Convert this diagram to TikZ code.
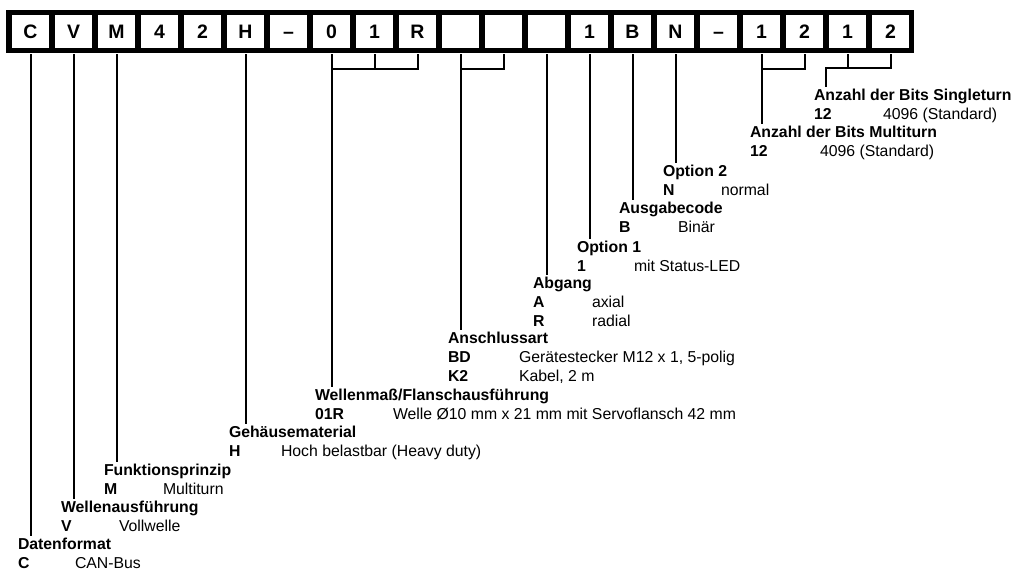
\documentclass[tikz,border=0pt]{standalone}
\usepackage{fontspec}
\setmainfont{Liberation Sans}
\usepackage{array}

\tikzset{every picture/.style={line width=1.5pt}}
\tikzset{
  digit/.style={fill=white, inner sep=0pt, minimum width=27.75pt, minimum height=24.75pt,
    text height=10.45pt, text depth=0pt, font=\fontsize{14.6}{16}\selectfont\bfseries},
  entry/.style={anchor=north west, inner sep=0pt, font=\fontsize{11.85}{13.9}\selectfont},
}
% title line, then code / meaning rows
\newcommand{\codelist}[3]{\begin{tabular}{@{}>{\bfseries}p{#1}@{}l@{}}\multicolumn{2}{@{}l@{}}{\bfseries #2}\\ #3\end{tabular}}

\begin{document}
\begin{tikzpicture}[x=0.75pt,y=0.75pt,yscale=-1,xscale=1]
\useasboundingbox (0,0) rectangle (1014,569);

% Type code bar
\node[fill=black, inner sep=0pt, minimum width=681pt, minimum height=32.25pt] (bar) at (460,31.5) {};
\foreach \ch [count=\i] in {C,V,M,4,2,H,\textendash,0,1,R,{},{},{},1,B,N,\textendash,1,2,1,2}
  \node[digit] (b\i) at ({30.5+43*(\i-1)},31.5) {\ch};

% Text Node
\node[entry] (fmt) at (17,536) {\codelist{42.75pt}{Datenformat}{C & CAN-Bus}};
% Text Node
\node[entry] (shaft) at (60,499) {\codelist{43.5pt}{Wellenausführung}{V & Vollwelle}};
% Text Node
\node[entry] (func) at (103,462) {\codelist{44.25pt}{Funktionsprinzip}{M & Multiturn}};
% Text Node
\node[entry] (house) at (228,424) {\codelist{39pt}{Gehäusematerial}{H & Hoch belastbar (Heavy duty)}};
% Text Node
\node[entry] (flange) at (314,387) {\codelist{58.5pt}{Wellenmaß/Flanschausführung}{01R & Welle Ø10 mm x 21 mm mit Servoflansch 42 mm}};
% Text Node
\node[entry] (conn) at (447,330) {\codelist{53.25pt}{Anschlussart}{BD & Gerätestecker M12 x 1, 5-polig\\ K2 & Kabel, 2 m}};
% Text Node
\node[entry] (outlet) at (532,275) {\codelist{44.25pt}{Abgang}{A & axial\\ R & radial}};
% Text Node
\node[entry] (opta) at (576,239) {\codelist{42.75pt}{Option 1}{1 & mit Status-LED}};
% Text Node
\node[entry] (outcode) at (618,200) {\codelist{44.25pt}{Ausgabecode}{B & Binär}};
% Text Node
\node[entry] (optb) at (662,163) {\codelist{43.5pt}{Option 2}{N & normal}};
% Text Node
\node[entry] (multi) at (749,124) {\codelist{52.5pt}{Anzahl der Bits Multiturn}{12 & 4096 (Standard)}};
% Text Node
\node[entry] (single) at (813,87) {\codelist{51.75pt}{Anzahl der Bits Singleturn}{12 & 4096 (Standard)}};

% bracket joints
\path (b8 |- bar.south) ++(0,15) coordinate (j1);
\coordinate (j4) at (826,68);

%Straight Lines
\draw (b1 |- bar.south) -- (b1 |- fmt.north);
\draw (b2 |- bar.south) -- (b2 |- shaft.north);
\draw (b3 |- bar.south) -- (b3 |- func.north);
\draw (b6 |- bar.south) -- (b6 |- house.north);
%Straight Lines
\draw (b8 |- bar.south) -- (b8 |- flange.north);
\draw (b9 |- bar.south) -- (b9 |- j1);
\draw (b10 |- bar.south) -- (b10 |- j1) -- (j1);
%Straight Lines
\draw (b11 |- bar.south) -- (b11 |- conn.north);
\draw (b12 |- bar.south) -- (b12 |- j1) -- (b11 |- j1);
%Straight Lines
\draw (b13 |- bar.south) -- (b13 |- outlet.north);
\draw (b14 |- bar.south) -- (b14 |- opta.north);
\draw (b15 |- bar.south) -- (b15 |- outcode.north);
\draw (b16 |- bar.south) -- (b16 |- optb.north);
%Straight Lines
\draw (b18 |- bar.south) -- (b18 |- multi.north);
\draw (b19 |- bar.south) -- (b19 |- j1) -- (b18 |- j1);
%Straight Lines
\draw (b20 |- bar.south) -- (b20 |- j4);
\draw (b21 |- bar.south) -- (b21 |- j4) -- (j4) -- (j4 |- single.north);

\end{tikzpicture}
\end{document}
